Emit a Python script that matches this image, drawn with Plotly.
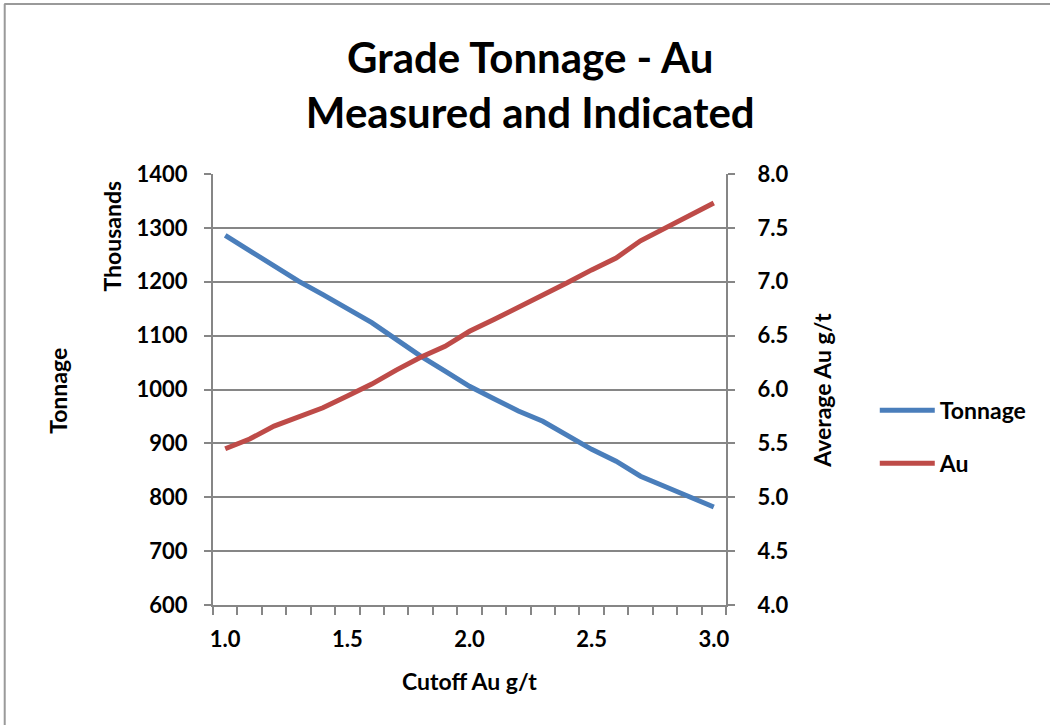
import plotly.graph_objects as go

# cutoff grades (categories) and the two series
cutoff = [1.0, 1.1, 1.2, 1.3, 1.4, 1.5, 1.6, 1.7, 1.8, 1.9, 2.0,
          2.1, 2.2, 2.3, 2.4, 2.5, 2.6, 2.7, 2.8, 2.9, 3.0]
tonnage_k = [1286, 1257, 1229, 1201, 1176, 1150, 1124, 1093, 1062, 1034, 1006,
             983, 960, 941, 915, 889, 867, 839, 820, 802, 782]
au_grade = [5.45, 5.54, 5.66, 5.75, 5.83, 5.94, 6.05, 6.18, 6.30, 6.40, 6.54,
            6.65, 6.76, 6.87, 6.99, 7.11, 7.22, 7.38, 7.50, 7.61, 7.73]
x_labels = [1.0, 1.5, 2.0, 2.5, 3.0]

FONT = "Lato"
GRID = "#868686"
BLUE = "#4A7EBB"
RED = "#BE4B48"
bold = dict(family=FONT, size=22, color="black", weight="bold")

fig = go.Figure()
fig.add_trace(go.Scatter(x=cutoff, y=tonnage_k, name="Tonnage", mode="lines",
                         line=dict(color=BLUE, width=5), legendgroup="t"))
fig.add_trace(go.Scatter(x=cutoff, y=au_grade, name="Au", mode="lines",
                         line=dict(color=RED, width=5), yaxis="y2", legendgroup="a"))

fig.update_layout(
    width=1050, height=725,
    margin=dict(l=213, r=324, t=174, b=120),
    paper_bgcolor="white", plot_bgcolor="white",
    font=dict(family=FONT, size=22, color="black"),
    title=dict(text="<b>Grade Tonnage - Au<br>Measured and Indicated</b>",
               x=0.505, xanchor="center", y=0.899, yanchor="middle",
               font=dict(family=FONT, size=42, color="black")),
    xaxis=dict(range=[0.95, 3.05], tickvals=x_labels, ticktext=["1.0", "1.5", "2.0", "2.5", "3.0"],
               ticks="outside", ticklen=14, tickcolor="rgba(0,0,0,0)",
               minor=dict(tick0=0.95, dtick=0.1, ticks="outside", ticklen=8,
                          tickcolor=GRID, tickwidth=2, showgrid=False),
               showline=True, linecolor=GRID, linewidth=2, showgrid=False, zeroline=False,
               tickfont=bold),
    yaxis=dict(range=[600, 1400], dtick=100, ticks="outside", ticklen=7, tickcolor=GRID,
               tickwidth=2, showline=True, linecolor=GRID, linewidth=2,
               showgrid=True, gridcolor=GRID, gridwidth=2, zeroline=False,
               ticklabelstandoff=12, tickfont=bold),
    yaxis2=dict(range=[4.0, 8.0], dtick=0.5, tickformat=".1f", overlaying="y", side="right",
                ticks="outside", ticklen=7, tickcolor=GRID, tickwidth=2,
                showline=True, linecolor=GRID, linewidth=2, showgrid=False, zeroline=False,
                ticklabelstandoff=18, tickfont=bold),
    legend=dict(x=1.29, xanchor="left", y=0.39, yanchor="middle",
                itemwidth=55, tracegroupgap=20, bgcolor="rgba(0,0,0,0)",
                font=dict(family=FONT, size=23, color="black", weight="bold")),
    showlegend=True,
)

# axis titles placed like the Excel original
titles = [("Cutoff Au g/t", 0.500, -0.176, 0),
          ("Tonnage", -0.302, 0.497, -90),
          ("Thousands", -0.197, 0.857, -90),
          ("Average Au g/t", 1.187, 0.499, -90)]
for text, ax, ay, ang in titles:
    fig.add_annotation(text=f"<b>{text}</b>", xref="paper", yref="paper", x=ax, y=ay,
                       xanchor="center", yanchor="middle", textangle=ang,
                       showarrow=False, font=dict(size=23))

# chart frame (top and left edges visible in the original)
fig.add_shape(type="line", xref="paper", yref="paper", x0=-0.407, x1=1.64,
              y0=1.3944, y1=1.3944, line=dict(color="#9A9A9A", width=2))
fig.add_shape(type="line", xref="paper", yref="paper", x0=-0.406, x1=-0.406,
              y0=1.3944, y1=-0.29, line=dict(color="#9A9A9A", width=2))

# drop the default page margin so the figure sits at the window origin
fig.write_html("out.html", config={"displayModeBar": False},
               post_script="document.body.style.margin='0';")
